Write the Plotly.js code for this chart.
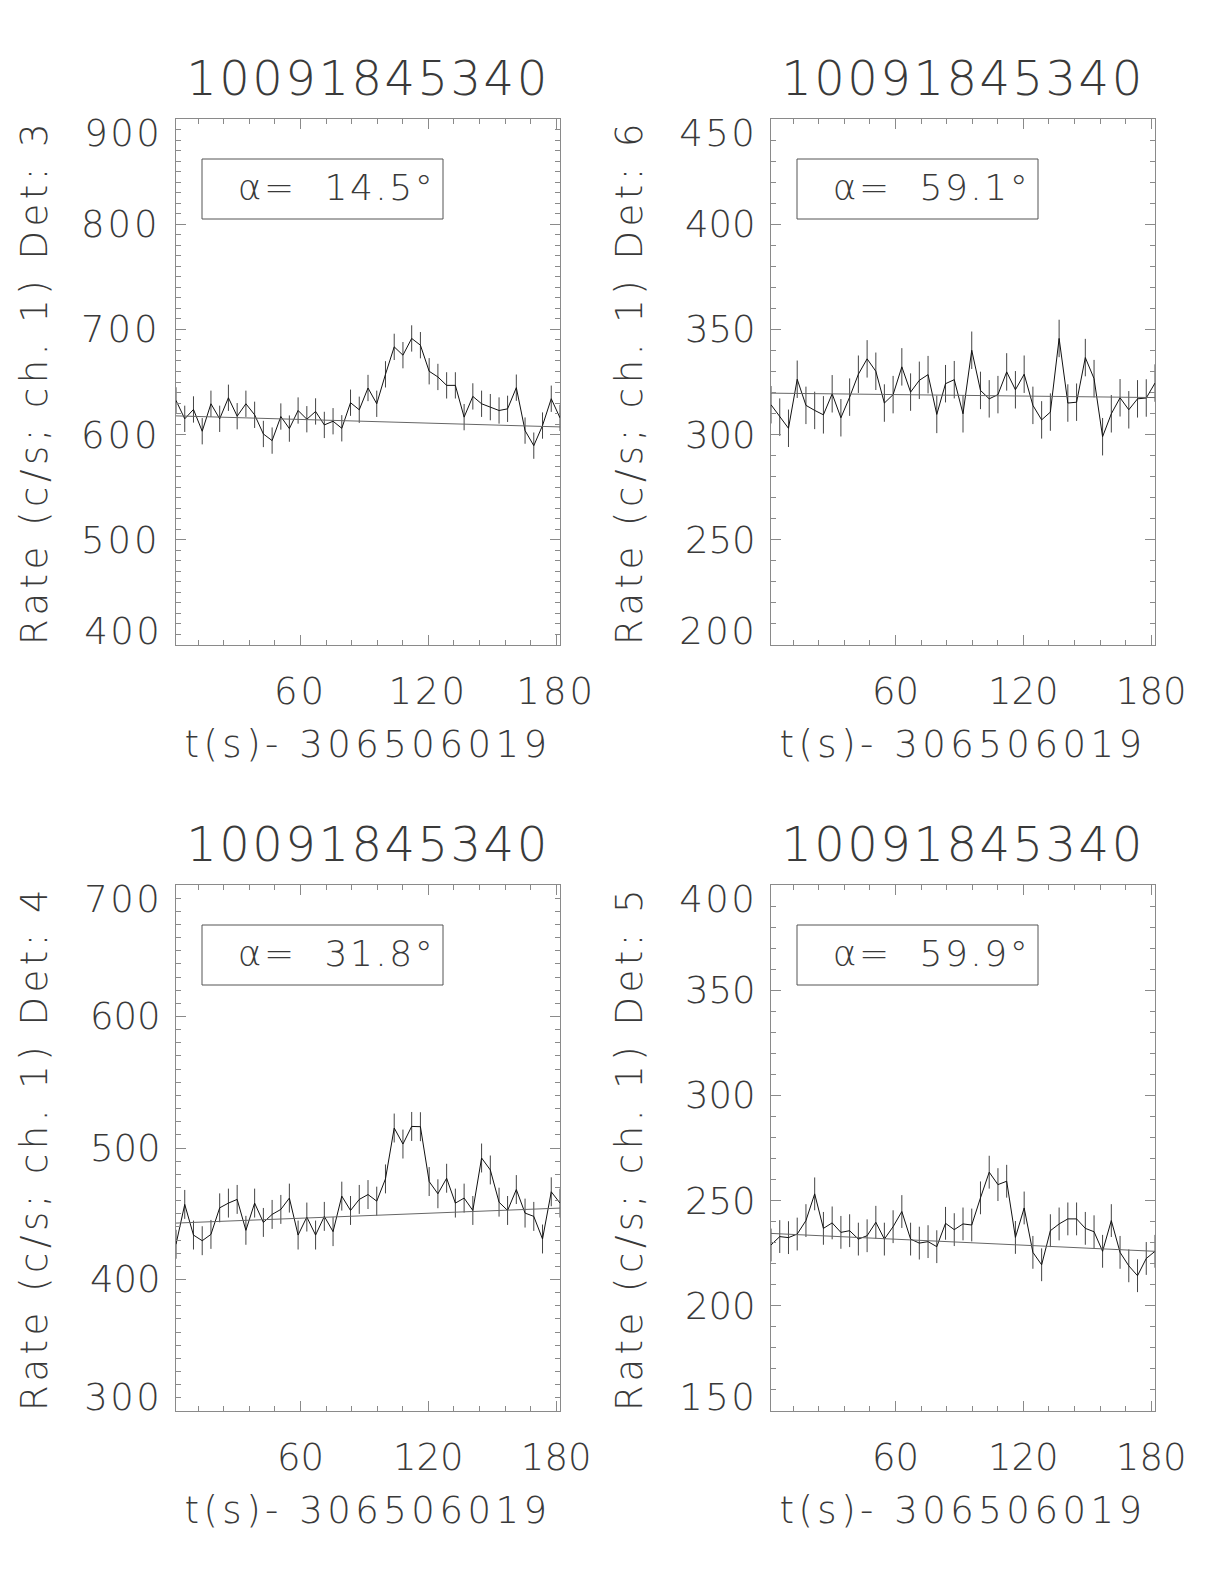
<!DOCTYPE html>
<html><head><meta charset="utf-8">
<script src="https://cdn.plot.ly/plotly-3.0.1.min.js"></script>
<style>
html,body{margin:0;padding:0;background:#fff}
#chart .xtick text, #chart .ytick text { letter-spacing: 3px; }
#chart text[class$="title"] { letter-spacing: 4.5px; }
#chart .annotation-text { letter-spacing: 2.5px; }
</style>
</head><body><div id="chart" style="width:1224px;height:1584px"></div>
<script>
// ---- data ----
const tBins = [1.6, 5.7, 9.8, 13.9, 18.0, 22.1, 26.2, 30.3, 34.4, 38.5, 42.6, 46.7, 50.8, 54.8, 58.9,
  63.0, 67.1, 71.2, 75.3, 79.4, 83.5, 87.6, 91.7, 95.8, 99.9, 104.0, 108.1, 112.2, 116.3, 120.4,
  124.5, 128.6, 132.7, 136.8, 140.9, 145.0, 149.1, 153.2, 157.2, 161.3, 165.4, 169.5, 173.6, 177.7, 181.8];

const rateDet3 = [632.5, 615, 623.9, 603.2, 629.3, 615, 635, 617.5, 629.3, 618.8, 600.6, 594.3, 617.2, 605.7, 622.9,
  614.6, 622, 609.2, 612.7, 606, 630.3, 623.6, 644.3, 629.3, 657.3, 683.4, 675.5, 691.4, 685, 660.2,
  654.8, 646.8, 646.8, 616.6, 636.3, 629.3, 626.1, 622.9, 624.5, 644.6, 603.8, 589.5, 608.6, 634.1, 615.9];
const rateDet6 = [314.2, 308.3, 303, 326.3, 313.9, 311.5, 309.4, 319.4, 308, 317.8, 328.7, 336, 330.1, 315, 319,
  332.2, 320.2, 325.8, 328.5, 309.6, 324.2, 326.1, 309.9, 340.1, 321, 317, 319, 329.8, 321.3, 328.7,
  313.9, 307, 310.7, 345.7, 315, 315.4, 336.6, 326.6, 299, 309.9, 317.5, 311.8, 317, 317.4, 324.5];
const rateDet4 = [426.8, 457.1, 433.8, 429.5, 434.3, 454.5, 458.1, 460.9, 437.4, 458.1, 443.4, 449.5, 453.3, 461.9, 433.8,
  447.5, 433.8, 448, 436.4, 463.4, 452.5, 460.9, 464.6, 459.6, 476.5, 515.2, 503, 516.4, 516.2, 474.5,
  465.2, 477, 458.1, 461.9, 452.5, 492.4, 483.3, 458.8, 452.5, 468.4, 450.5, 448, 430.8, 466.7, 458.1];
const rateDet5 = [228.9, 232.9, 232.4, 234.1, 240.5, 253.2, 236.8, 239.4, 234.9, 235.7, 231.7, 233.3, 239.7, 231.7, 237.6,
  244.8, 231.7, 229.8, 230.5, 228.1, 239.2, 236.2, 238.9, 238.4, 251.3, 263.5, 257.6, 259.2, 232.5, 246.5,
  225.4, 219.5, 235.7, 238.9, 241.3, 241.3, 236.8, 235.2, 225.9, 240.5, 225.4, 219, 214.3, 222.5, 225.9];

// error bar half-lengths (c/s), one per panel
const errDet = [12.5, 8.9, 11.0, 7.8];
// background fit: value at first and last bin
const fitDet3 = [617.8, 607.3];
const fitDet6 = [319.7, 317.6];
const fitDet4 = [442.9, 454.3];
const fitDet5 = [234.4, 225.9];

const panelTitles = ['10091845340', '10091845340', '10091845340', '10091845340'];
const detLabels = ['3', '6', '4', '5'];
const alphaDeg = ['14.5', '59.1', '31.8', '59.9'];
const yRanges = [[400, 900], [200, 450], [300, 700], [150, 400]];
const yMajor = [100, 50, 100, 50];
const xTickVals = [60, 120, 180];
const xTitle = 't(s)- 306506019';

// ---- styling / layout ----
const W = 1224, H = 1584;
const FONT = "'DejaVu Sans', sans-serif";
const TXT = '#3a3a3a';
const AX = '#8a8a8a';
const colsPx = [[176, 560], [771, 1155]];
const rowsPx = [[119, 645], [885, 1411]];
const rates = [rateDet3, rateDet6, rateDet4, rateDet5];
const fits = [fitDet3, fitDet6, fitDet4, fitDet5];
const pos = [[0, 0], [1, 0], [0, 1], [1, 1]]; // [col,row]

const data = [];
const layout = {
  width: W, height: H, margin: {l: 0, r: 0, t: 0, b: 0},
  paper_bgcolor: '#fff', plot_bgcolor: '#fff', showlegend: false,
  font: {family: FONT, color: TXT, weight: 200},
  annotations: [], shapes: []
};

for (let p = 0; p < 4; p++) {
  const n = p + 1;
  const xa = n === 1 ? 'x' : 'x' + n, ya = n === 1 ? 'y' : 'y' + n;
  const xk = n === 1 ? 'xaxis' : 'xaxis' + n, yk = n === 1 ? 'yaxis' : 'yaxis' + n;
  const [c, r] = pos[p];
  const xd = [colsPx[c][0] / W, colsPx[c][1] / W];
  const yd = [1 - rowsPx[r][1] / H, 1 - rowsPx[r][0] / H];

  data.push({
    x: tBins, y: rates[p], xaxis: xa, yaxis: ya, type: 'scatter', mode: 'lines',
    line: {color: '#111', width: 1},
    error_y: {type: 'data', array: tBins.map(() => errDet[p]), visible: true, thickness: 1, width: 0, color: '#444'},
    hoverinfo: 'skip'
  });
  data.push({
    x: [tBins[0], tBins[tBins.length - 1]], y: fits[p], xaxis: xa, yaxis: ya, type: 'scatter', mode: 'lines',
    line: {color: '#666', width: 1}, hoverinfo: 'skip'
  });

  const yr = yRanges[p];
  const yt = [];
  for (let v = yr[0]; v <= yr[1]; v += yMajor[p]) yt.push(v);

  layout[xk] = {
    domain: xd, anchor: ya, range: [tBins[0], tBins[tBins.length - 1]],
    showgrid: false, zeroline: false, showline: true, linecolor: AX, linewidth: 1, mirror: 'ticks',
    ticks: 'inside', ticklen: 10, tickcolor: AX, tickwidth: 1,
    tickmode: 'array', tickvals: xTickVals, ticktext: xTickVals.map(String),
    ticklabelstandoff: 14,
    minor: {ticks: 'inside', dtick: 12, tick0: 0, ticklen: 5, tickcolor: AX, showgrid: false},
    tickfont: {family: FONT, size: 37, color: TXT, weight: 200},
    title: {text: xTitle, font: {family: FONT, size: 37, color: TXT, weight: 200}, standoff: 18}
  };
  layout[yk] = {
    domain: yd, anchor: xa, range: yr,
    showgrid: false, zeroline: false, showline: true, linecolor: AX, linewidth: 1, mirror: 'ticks',
    ticks: 'inside', ticklen: 10, tickcolor: AX, tickwidth: 1,
    tickmode: 'array', tickvals: yt,
    ticktext: yt.map((v, i) => (i === 0 || i === yt.length - 1) ? '' : String(v)),
    ticklabelstandoff: 7,
    minor: {ticks: 'inside', dtick: 10, tick0: 0, ticklen: 5, tickcolor: AX, showgrid: false},
    tickfont: {family: FONT, size: 37, color: TXT, weight: 200},
    title: {text: 'Rate (c/s; ch. 1) Det: ' + detLabels[p], font: {family: FONT, size: 37, color: TXT, weight: 200}, standoff: 31}
  };

  // end tick labels (IDL draws them pulled inside the axis span)
  [[yr[1], -14], [yr[0], 14]].forEach(([v, s]) => {
    layout.annotations.push({
      xref: xa + ' domain', yref: ya, x: 0, y: v, xanchor: 'right', yanchor: 'middle',
      xshift: -15, yshift: s, text: String(v), showarrow: false,
      font: {family: FONT, size: 37, color: TXT, weight: 200}
    });
  });

  // panel title
  layout.annotations.push({
    xref: 'paper', yref: 'paper', x: (xd[0] + xd[1]) / 2, y: 1 - (rowsPx[r][0] - 41) / H,
    xanchor: 'center', yanchor: 'middle', text: panelTitles[p], showarrow: false,
    font: {family: FONT, size: 48, color: TXT, weight: 200}
  });

  // angle box
  const pw = colsPx[c][1] - colsPx[c][0], ph = rowsPx[r][1] - rowsPx[r][0];
  layout.shapes.push({
    type: 'rect', xref: xa + ' domain', yref: ya + ' domain',
    x0: 26 / pw, x1: 267 / pw, y0: 1 - 100 / ph, y1: 1 - 40 / ph,
    line: {color: '#555', width: 1}, fillcolor: 'rgba(0,0,0,0)'
  });
  layout.annotations.push({
    xref: xa + ' domain', yref: ya + ' domain', x: 160 / pw, y: 1 - 68 / ph,
    xanchor: 'center', yanchor: 'middle', showarrow: false,
    text: 'α=&nbsp;&nbsp;' + alphaDeg[p] + '°',
    font: {family: FONT, size: 36, color: TXT, weight: 200}
  });
}

Plotly.newPlot('chart', data, layout, {staticPlot: true});
</script>
</body></html>
